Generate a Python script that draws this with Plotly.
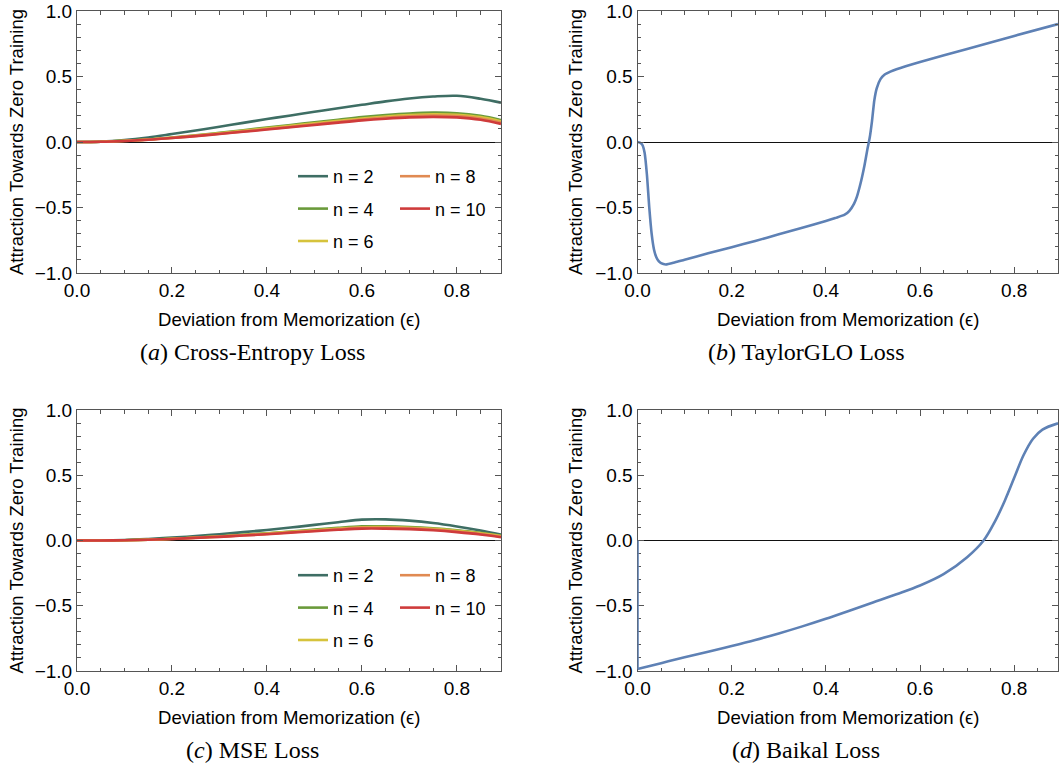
import plotly.graph_objects as go

# ---------------- data ----------------
eps = [0.0, 0.05, 0.1, 0.15, 0.2, 0.25, 0.3, 0.35, 0.4, 0.45, 0.5, 0.55,
       0.6, 0.65, 0.7, 0.75, 0.8, 0.85, 0.893]

series_names = ["n = 2", "n = 4", "n = 6", "n = 8", "n = 10"]

ce_n2 = [0, 0.003, 0.015, 0.035, 0.061, 0.088, 0.117, 0.146, 0.175, 0.203, 0.231,
         0.258, 0.284, 0.31, 0.332, 0.347, 0.353, 0.33, 0.30]
ce_n4 = [0, 0.002, 0.009, 0.02, 0.035, 0.052, 0.07, 0.09, 0.11, 0.13, 0.15,
         0.17, 0.19, 0.206, 0.218, 0.224, 0.22, 0.2, 0.168]
ce_n6 = [0, 0.002, 0.009, 0.019, 0.033, 0.049, 0.066, 0.085, 0.104, 0.123, 0.142,
         0.161, 0.18, 0.195, 0.206, 0.212, 0.208, 0.19, 0.158]
ce_n8 = [0, 0.002, 0.008, 0.018, 0.031, 0.047, 0.063, 0.081, 0.099, 0.117, 0.135,
         0.153, 0.171, 0.186, 0.197, 0.202, 0.198, 0.18, 0.148]
ce_n10 = [0, 0.002, 0.008, 0.017, 0.03, 0.045, 0.061, 0.078, 0.095, 0.112, 0.13,
          0.148, 0.165, 0.178, 0.188, 0.192, 0.188, 0.17, 0.138]

mse_n2 = [0, 0.0, 0.004, 0.012, 0.022, 0.034, 0.048, 0.064, 0.081, 0.099, 0.12,
          0.14, 0.16, 0.162, 0.152, 0.134, 0.108, 0.077, 0.045]
mse_n4 = [0, 0.0, 0.002, 0.007, 0.014, 0.023, 0.033, 0.044, 0.056, 0.069, 0.083,
          0.097, 0.108, 0.109, 0.104, 0.094, 0.079, 0.06, 0.038]
mse_n6 = [0, 0.0, 0.002, 0.006, 0.013, 0.022, 0.031, 0.042, 0.053, 0.066, 0.079,
          0.092, 0.102, 0.103, 0.098, 0.089, 0.074, 0.055, 0.034]
mse_n8 = [0, 0.0, 0.002, 0.006, 0.012, 0.021, 0.03, 0.04, 0.05, 0.063, 0.075,
          0.087, 0.097, 0.097, 0.093, 0.084, 0.069, 0.05, 0.03]
mse_n10 = [0, 0.0, 0.002, 0.006, 0.012, 0.02, 0.028, 0.038, 0.048, 0.06, 0.071,
           0.082, 0.091, 0.091, 0.087, 0.078, 0.064, 0.046, 0.025]

taylor_eps = [0.0, 0.005, 0.01, 0.015, 0.02, 0.025, 0.03, 0.035, 0.04, 0.045, 0.05,
              0.06, 0.08, 0.1, 0.15, 0.2, 0.25, 0.3, 0.35, 0.4, 0.42, 0.44, 0.45,
              0.46, 0.466, 0.472, 0.477, 0.482, 0.488, 0.493, 0.498, 0.503, 0.508,
              0.516, 0.525, 0.537, 0.55, 0.6, 0.7, 0.8, 0.893]
taylor_val = [0.0, -0.005, -0.02, -0.08, -0.25, -0.5, -0.7, -0.82, -0.88, -0.91, -0.925,
              -0.935, -0.918, -0.898, -0.85, -0.803, -0.755, -0.705, -0.655, -0.603, -0.58,
              -0.555, -0.525, -0.47, -0.417, -0.34, -0.265, -0.18, -0.06, 0.03, 0.16,
              0.32, 0.41, 0.48, 0.515, 0.537, 0.555, 0.61, 0.71, 0.81, 0.9]

# Baikal: a vertical jump at eps = 0 (0 -> -0.985), then the smooth branch
baikal_jump_eps = [0.0, 0.0]
baikal_jump_val = [0.0, -0.985]
baikal_eps = [0.0, 0.05, 0.1, 0.15, 0.2, 0.25, 0.3, 0.35, 0.4, 0.45, 0.5, 0.55,
              0.6, 0.65, 0.7, 0.735, 0.76, 0.78, 0.8, 0.82, 0.84, 0.86, 0.893]
baikal_val = [-0.985, -0.94, -0.895, -0.852, -0.808, -0.762, -0.712, -0.658, -0.6,
              -0.538, -0.475, -0.412, -0.345, -0.258, -0.128, 0.0, 0.152, 0.305, 0.48,
              0.655, 0.78, 0.85, 0.898]

n_colors = ["#3e6e64", "#6a9a3a", "#d6c33c", "#e08a52", "#cf3b3b"]
blue = "#5e81b5"

captions = ["(<i>a</i>) Cross-Entropy Loss", "(<i>b</i>) TaylorGLO Loss",
            "(<i>c</i>) MSE Loss", "(<i>d</i>) Baikal Loss"]
x_title = "Deviation from Memorization (\u03f5)"
y_title = "Attraction Towards Zero Training"
x_ticks = [0.0, 0.2, 0.4, 0.6, 0.8]
y_ticks = [-1.0, -0.5, 0.0, 0.5, 1.0]

# ---------------- figure ----------------
W, H = 1063, 763
SANS = "Liberation Sans, Arial, sans-serif"
SERIF = "Liberation Serif, Times New Roman, serif"

fig = go.Figure()

ce_series = [ce_n2, ce_n4, ce_n6, ce_n8, ce_n10]
mse_series = [mse_n2, mse_n4, mse_n6, mse_n8, mse_n10]
legend_cols = ["legend", "legend", "legend", "legend2", "legend2"]
legend_cols_c = ["legend3", "legend3", "legend3", "legend4", "legend4"]

for i, (name, ys) in enumerate(zip(series_names, ce_series)):
    fig.add_trace(go.Scatter(x=eps, y=ys, name=name, mode="lines",
                             line=dict(color=n_colors[i], width=2.6, shape="spline", smoothing=1),
                             xaxis="x", yaxis="y", legend=legend_cols[i],
                             legendgroup="a" + name, showlegend=True))
for i, (name, ys) in enumerate(zip(series_names, mse_series)):
    fig.add_trace(go.Scatter(x=eps, y=ys, name=name, mode="lines",
                             line=dict(color=n_colors[i], width=2.6, shape="spline", smoothing=1),
                             xaxis="x3", yaxis="y3", legend=legend_cols_c[i],
                             legendgroup="c" + name, showlegend=True))

fig.add_trace(go.Scatter(x=taylor_eps, y=taylor_val, mode="lines", showlegend=False,
                         line=dict(color=blue, width=2.6, shape="spline", smoothing=0.6),
                         xaxis="x2", yaxis="y2"))
fig.add_trace(go.Scatter(x=baikal_jump_eps + [None] + baikal_eps,
                         y=baikal_jump_val + [None] + baikal_val,
                         mode="lines", showlegend=False, connectgaps=False,
                         line=dict(color=blue, width=2.6, shape="spline", smoothing=1),
                         xaxis="x4", yaxis="y4"))

# plot-area boxes (pixels)
left_box = (77, 501)
right_box = (637.5, 1058)
top_box = (11, 273)
bot_box = (410, 671)


def xd(b):
    return [b[0] / W, b[1] / W]


def yd(b):
    return [1 - b[1] / H, 1 - b[0] / H]


FRAME = "#555555"


def xaxis(dom, anchor, layer="above traces"):
    return dict(domain=dom, anchor=anchor, range=[0, 0.893], automargin=False,
                tickvals=x_ticks, tickformat=".1f", layer=layer,
                ticks="inside", ticklen=6, tickwidth=1, tickcolor=FRAME,
                showline=True, linecolor=FRAME, linewidth=1, mirror="ticks",
                showgrid=False, zeroline=False,
                minor=dict(dtick=0.05, tick0=0, ticks="inside", ticklen=3.5,
                           tickcolor=FRAME, showgrid=False),
                tickfont=dict(family=SANS, size=19, color="black"))


def yaxis(dom, anchor, layer="above traces"):
    return dict(domain=dom, anchor=anchor, range=[-1, 1], automargin=False,
                tickvals=y_ticks, tickformat=".1f", layer=layer,
                ticks="inside", ticklen=6, tickwidth=1, tickcolor=FRAME,
                showline=True, linecolor=FRAME, linewidth=1, mirror="ticks",
                showgrid=False, zeroline=True, zerolinecolor="#111111", zerolinewidth=1,
                minor=dict(dtick=0.1, tick0=0, ticks="inside", ticklen=3.5,
                           tickcolor=FRAME, showgrid=False),
                tickfont=dict(family=SANS, size=19, color="black"))


legend_common = dict(font=dict(family=SANS, size=18, color="black"),
                     bgcolor="rgba(0,0,0,0)", borderwidth=0,
                     xanchor="left", yanchor="top", tracegroupgap=6,
                     orientation="v", itemwidth=30)


def leg(xpx, ypx):
    d = dict(legend_common)
    d.update(x=(xpx - 5) / W, y=1 - (ypx - 16) / H)
    return d


fig.update_layout(
    width=W, height=H,
    margin=dict(l=0, r=0, t=0, b=0, autoexpand=False),
    paper_bgcolor="white", plot_bgcolor="white",
    xaxis=xaxis(xd(left_box), "y"), yaxis=yaxis(yd(top_box), "x"),
    xaxis2=xaxis(xd(right_box), "y2"), yaxis2=yaxis(yd(top_box), "x2"),
    xaxis3=xaxis(xd(left_box), "y3"), yaxis3=yaxis(yd(bot_box), "x3"),
    xaxis4=xaxis(xd(right_box), "y4", "below traces"),
    yaxis4=yaxis(yd(bot_box), "x4", "below traces"),
    legend=leg(298, 174), legend2=leg(400, 174),
    legend3=leg(298, 573), legend4=leg(400, 573),
    showlegend=True,
)

annotations = []
for box_x, box_y, ylab_x in [(left_box, top_box, 16), (right_box, top_box, 575),
                             (left_box, bot_box, 16), (right_box, bot_box, 575)]:
    cx = (box_x[0] + box_x[1]) / 2
    cy = (box_y[0] + box_y[1]) / 2
    annotations.append(dict(text=x_title, x=cx / W, y=1 - (box_y[1] + 46) / H,
                            xref="paper", yref="paper", showarrow=False,
                            xanchor="center", yanchor="middle",
                            font=dict(family=SANS, size=18.6, color="black")))
    annotations.append(dict(text=y_title, x=ylab_x / W, y=1 - cy / H, textangle=-90,
                            xref="paper", yref="paper", showarrow=False,
                            xanchor="center", yanchor="middle",
                            font=dict(family=SANS, size=18.5, color="black")))

cap_pos = [(252, 352), (806, 352), (252, 750), (806, 750)]
for txt, (px, py) in zip(captions, cap_pos):
    annotations.append(dict(text=txt, x=px / W, y=1 - py / H, xref="paper", yref="paper",
                            showarrow=False, xanchor="center", yanchor="middle",
                            font=dict(family=SERIF, size=24, color="black")))

fig.update_layout(annotations=annotations)

fig.write_html("out.html", config={"displayModeBar": False},
               post_script="document.body.style.margin='0';document.body.style.overflow='hidden';")
